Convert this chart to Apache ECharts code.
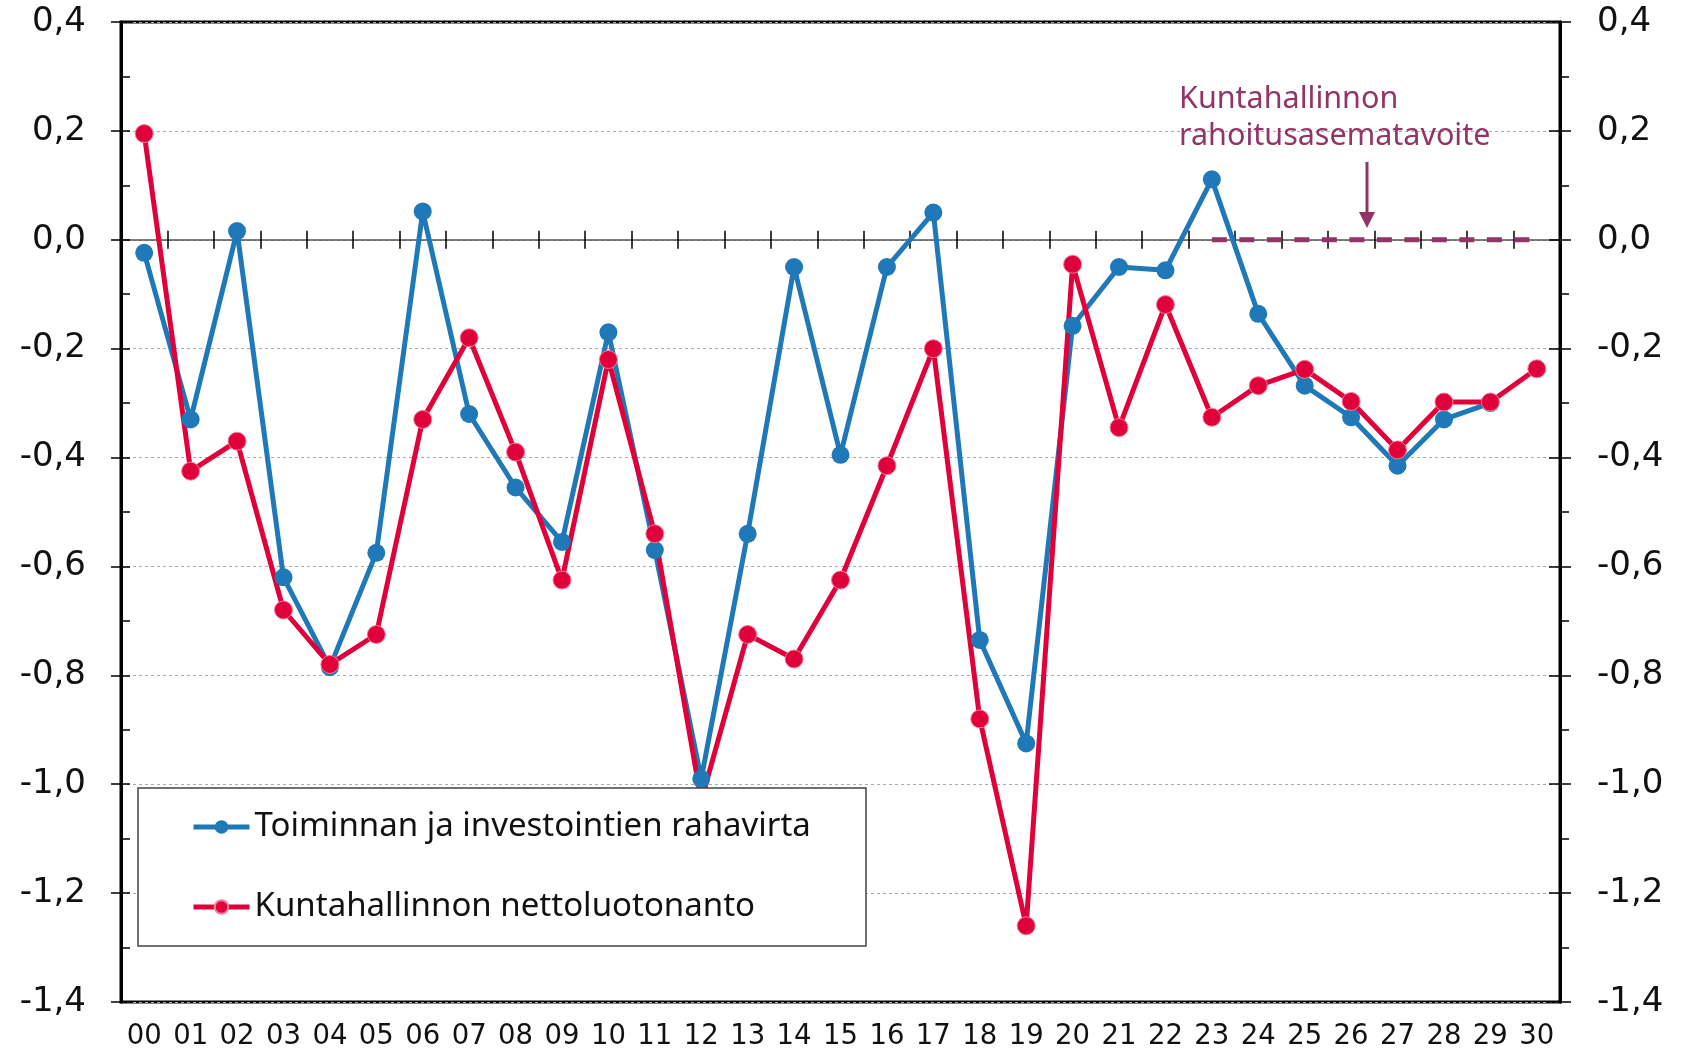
<!DOCTYPE html>
<html>
<head>
<meta charset="utf-8">
<title>Kuntahallinnon rahoitusasema</title>
<script src="https://cdn.jsdelivr.net/npm/echarts@6/dist/echarts.min.js"></script>
<style>
  html, body { margin: 0; padding: 0; background: #fff; }
  #chart { width: 1694px; height: 1053px; }
</style>
</head>
<body>
<div id="chart"></div>
<script>
// vuodet 2000-2030
const years = ['00', '01', '02', '03', '04', '05', '06', '07', '08', '09', '10',
  '11', '12', '13', '14', '15', '16', '17', '18', '19', '20',
  '21', '22', '23', '24', '25', '26', '27', '28', '29', '30']

// Toiminnan ja investointien rahavirta
const cashFlow = [-0.024, -0.33, 0.016, -0.62, -0.785, -0.575, 0.052, -0.32, -0.455, -0.555, -0.17,
  -0.57, -0.99, -0.54, -0.05, -0.395, -0.05, 0.05, -0.735, -0.925, -0.158,
  -0.05, -0.056, 0.111, -0.136, -0.268, -0.326, -0.415, -0.33, -0.30, null]

// Kuntahallinnon nettoluotonanto
const netLending = [0.195, -0.425, -0.37, -0.68, -0.78, -0.725, -0.33, -0.18, -0.39, -0.625, -0.22,
  -0.54, -1.03, -0.725, -0.77, -0.625, -0.415, -0.2, -0.88, -1.26, -0.045,
  -0.345, -0.119, -0.326, -0.268, -0.238, -0.297, -0.386, -0.298, -0.298, -0.237]

// rahoitusasematavoite
const targetYears = ['23', '24', '25', '26', '27', '28', '29', '30']
const targetLevel = 0

const yMin = -1.4
const yMax = 0.4
const yStep = 0.2

const axisFont = '"DejaVu Sans", "Liberation Sans", sans-serif'
const textFont = '"Noto Sans", "Open Sans", sans-serif'
const blue = '#1f78b8'
const red = '#e0003a'
const purple = '#923466'

const fmt = v => (Math.abs(v) < 1e-9 ? 0 : v).toFixed(1).replace('.', ',')

const chart = echarts.init(document.getElementById('chart'))

// y-akselin pohja (vasen + oikea, tikit molemmin puolin)
const yBase = { type: 'value', min: yMin, max: yMax, interval: yStep }
const tickStyle = { color: '#000', width: 1.5 }

const option = {
  animation: false,
  backgroundColor: '#fff',
  grid: {
    left: 121,
    right: 134,
    top: 22,
    bottom: 51,
    show: true,
    borderColor: '#000',
    borderWidth: 3
  },
  legend: {
    data: ['Toiminnan ja investointien rahavirta', 'Kuntahallinnon nettoluotonanto'],
    orient: 'vertical',
    left: 191,
    top: 810,
    padding: 0,
    itemWidth: 56,
    itemHeight: 17,
    itemGap: 46,
    z: 6,
    lineStyle: { width: 5 },
    textStyle: {
      fontFamily: textFont,
      fontSize: 33,
      lineHeight: 34,
      color: '#111'
    }
  },
  xAxis: [
    {
      // alareunan tekstit
      type: 'category',
      data: years,
      position: 'bottom',
      axisLine: { show: false, onZero: false },
      axisTick: { show: false },
      axisLabel: { fontFamily: axisFont, fontSize: 27.5, color: '#111', margin: 21 },
      splitLine: { show: false }
    },
    {
      // nollaviiva + tikit ylöspäin
      type: 'category',
      data: years,
      position: 'bottom',
      axisLine: { show: true, onZero: true, lineStyle: { color: '#555', width: 1.5 } },
      axisTick: { show: true, inside: true, length: 9, lineStyle: tickStyle },
      axisLabel: { show: false },
      splitLine: { show: false }
    },
    {
      // tikit alaspäin
      type: 'category',
      data: years,
      position: 'bottom',
      axisLine: { show: false, onZero: true },
      axisTick: { show: true, inside: false, length: 9, lineStyle: tickStyle },
      axisLabel: { show: false },
      splitLine: { show: false }
    }
  ],
  yAxis: [
    {
      ...yBase,
      position: 'left',
      axisLine: { show: true, lineStyle: { color: '#000', width: 3 } },
      axisTick: { show: true, inside: true, length: 9, lineStyle: tickStyle },
      minorTick: { show: true, splitNumber: 2, length: 9, lineStyle: tickStyle },
      axisLabel: { fontFamily: axisFont, fontSize: 34, color: '#111', margin: 35, formatter: fmt },
      splitLine: { show: true, lineStyle: { type: [3, 3], color: '#aaa', width: 1 } }
    },
    {
      ...yBase,
      position: 'left',
      axisLine: { show: false },
      axisTick: { show: true, inside: false, length: 10, lineStyle: tickStyle },
      axisLabel: { show: false },
      splitLine: { show: false }
    },
    {
      ...yBase,
      position: 'right',
      axisLine: { show: true, lineStyle: { color: '#000', width: 3 } },
      axisTick: { show: true, inside: false, length: 11, lineStyle: tickStyle },
      minorTick: { show: true, splitNumber: 2, length: 9, lineStyle: tickStyle },
      axisLabel: { fontFamily: axisFont, fontSize: 34, color: '#111', margin: 37, formatter: fmt },
      splitLine: { show: false }
    },
    {
      ...yBase,
      position: 'right',
      axisLine: { show: false },
      axisTick: { show: true, inside: true, length: 11, lineStyle: tickStyle },
      axisLabel: { show: false },
      splitLine: { show: false }
    }
  ],
  series: [
    {
      name: 'Kuntahallinnon rahoitusasematavoite',
      type: 'line',
      data: years.map(y => (targetYears.includes(y) ? targetLevel : null)),
      showSymbol: false,
      symbol: 'none',
      z: 2,
      lineStyle: { color: purple, width: 5, type: [15, 12.5] }
    },
    {
      name: 'Toiminnan ja investointien rahavirta',
      type: 'line',
      data: cashFlow,
      symbol: 'circle',
      symbolSize: 18,
      z: 3,
      itemStyle: { color: blue },
      lineStyle: { color: blue, width: 5 }
    },
    {
      name: 'Kuntahallinnon nettoluotonanto',
      type: 'line',
      data: netLending,
      symbol: 'circle',
      symbolSize: 18,
      z: 3,
      itemStyle: { color: red, borderColor: '#f37d9a', borderWidth: 1 },
      lineStyle: { color: red, width: 5 }
    }
  ],
  graphic: [
    {
      // selitteen laatikko
      type: 'rect',
      z: 5,
      shape: { x: 138, y: 788, width: 728, height: 158 },
      style: { fill: '#fff', stroke: '#444', lineWidth: 1.5 }
    },
    {
      type: 'text',
      z: 6,
      left: 1179,
      top: 81,
      style: {
        text: 'Kuntahallinnon\nrahoitusasematavoite',
        fontFamily: textFont,
        fontSize: 30.5,
        lineHeight: 37,
        fill: purple
      }
    },
    {
      type: 'line',
      z: 6,
      shape: { x1: 1367, y1: 162, x2: 1367, y2: 214 },
      style: { stroke: purple, lineWidth: 3 }
    },
    {
      type: 'polygon',
      z: 6,
      shape: { points: [[1359, 212], [1375, 212], [1367, 228]] },
      style: { fill: purple }
    }
  ]
}

chart.setOption(option)
</script>
</body>
</html>
